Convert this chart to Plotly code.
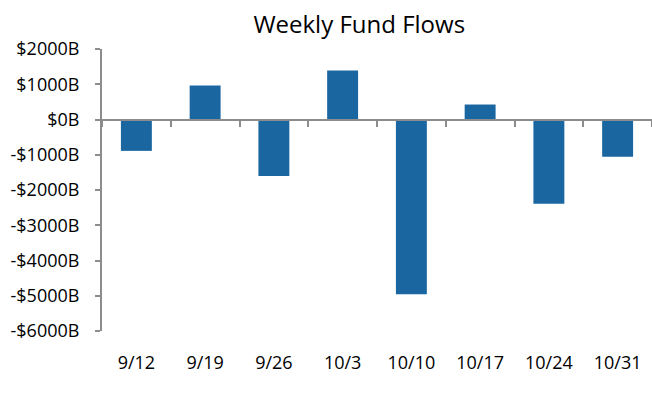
import plotly.graph_objects as go

weeks = ["9/12", "9/19", "9/26", "10/3", "10/10", "10/17", "10/24", "10/31"]
flows = [-890, 965, -1600, 1390, -4960, 425, -2390, -1060]
y_tick_vals = [2000, 1000, 0, -1000, -2000, -3000, -4000, -5000, -6000]
y_tick_text = ["$2000B", "$1000B", "$0B", "-$1000B", "-$2000B", "-$3000B", "-$4000B", "-$5000B", "-$6000B"]

FONT = "Open Sans"
GRAY = "#8c8c8c"
BAR = "#1a66a0"

fig = go.Figure()
fig.add_trace(go.Bar(x=weeks, y=flows, marker=dict(color=BAR, line=dict(width=0)), xaxis="x", yaxis="y"))
# invisible trace to drive the zero-crossing axis
fig.add_trace(go.Bar(x=weeks, y=[0]*len(weeks), xaxis="x2", yaxis="y", showlegend=False,
                     marker=dict(color="rgba(0,0,0,0)"), hoverinfo="skip"))

ymin, ymax = -6000, 2000
zero_pos = (0 - ymin) / (ymax - ymin)

fig.update_layout(
    width=652, height=395,
    margin=dict(l=102, r=0, t=49, b=64),
    paper_bgcolor="white", plot_bgcolor="white",
    showlegend=False,
    bargap=0.55,
    font=dict(family=FONT, size=18, color="black"),
    title=dict(text="Weekly Fund Flows", x=0.551, xanchor="center", y=0.937, yanchor="middle",
               font=dict(family=FONT, size=24, color="black")),
    xaxis=dict(type="category", showline=False, ticks="", showgrid=False, zeroline=False,
               tickfont=dict(family=FONT, size=18, color="black"), ticklabelstandoff=19),
    xaxis2=dict(type="category", overlaying="x", anchor="free", position=zero_pos, side="bottom",
                showline=True, linecolor=GRAY, linewidth=2, ticks="outside", tickson="boundaries",
                ticklen=6, tickwidth=2, tickcolor=GRAY, showticklabels=False, showgrid=False,
                zeroline=False, matches="x"),
    yaxis=dict(range=[ymin, ymax], tickvals=y_tick_vals, ticktext=y_tick_text,
               showline=True, linecolor=GRAY, linewidth=2, ticks="outside", ticklen=5,
               tickwidth=2, tickcolor=GRAY, showgrid=False, zeroline=False, ticklabelstandoff=12,
               tickfont=dict(family=FONT, size=18, color="black")),
)

fig.write_html("out.html", config={"displayModeBar": False},
               post_script="document.body.style.margin='0';document.body.style.overflow='hidden';")
